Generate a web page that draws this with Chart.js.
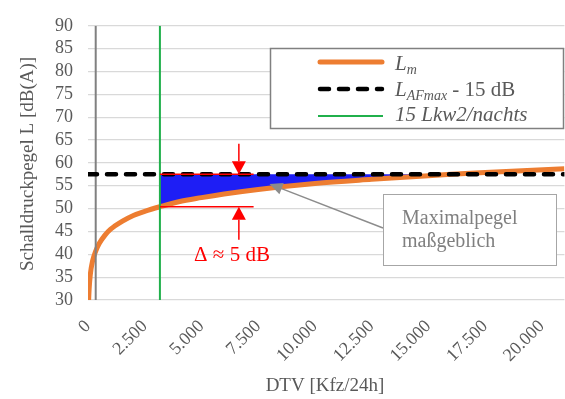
<!DOCTYPE html>
<html>
<head>
<meta charset="utf-8">
<script src="https://cdn.jsdelivr.net/npm/chart.js@4.4.0/dist/chart.umd.min.js"></script>
<style>
  html, body { margin: 0; padding: 0; background: #fff; }
</style>
</head>
<body>
<canvas id="chart" width="565" height="399"></canvas>
<script>
// values
const dtv = [28, 50, 100, 200, 340, 500, 750, 1000, 1500, 2000, 2500, 3170, 4000, 5000, 6000, 7500, 10000, 12500, 15000, 16000, 17500, 21000];
const lm  = [30.0, 32.4, 35.5, 38.5, 40.7, 42.4, 44.2, 45.5, 47.2, 48.5, 49.4, 50.4, 51.5, 52.4, 53.2, 54.2, 55.5, 56.4, 57.2, 57.5, 57.9, 58.7];
const lafmaxMinus15 = 57.5;     // L_AFmax - 15 dB
const lkwNight = 3170;          // 15 Lkw2/nachts
const greyMarker = 340;
const deltaLow = 50.4;          // Lm at the green line
const yTicks = [30, 35, 40, 45, 50, 55, 60, 65, 70, 75, 80, 85, 90];
const xTicks = [0, 2500, 5000, 7500, 10000, 12500, 15000, 17500, 20000];

const serif = '"Liberation Serif", "Times New Roman", serif';
const grey = '#595959';

const lmPoints = dtv.map((d, i) => ({ x: d, y: lm[i] }));
// blue area between Lm and the max level line, right of the green line
const fillPoints = lmPoints.filter(p => p.x >= lkwNight && p.y <= lafmaxMinus15);

function fmt(v) {
  return String(v).replace(/\B(?=(\d{3})+(?!\d))/g, '.');
}

function arrow(ctx, x, yFrom, yTo) {
  const dir = yTo > yFrom ? 1 : -1;
  const head = 13, half = 7;
  ctx.beginPath();
  ctx.moveTo(x, yFrom);
  ctx.lineTo(x, yTo - dir * head);
  ctx.stroke();
  ctx.beginPath();
  ctx.moveTo(x, yTo);
  ctx.lineTo(x - half, yTo - dir * head);
  ctx.lineTo(x + half, yTo - dir * head);
  ctx.closePath();
  ctx.fill();
}

const overlay = {
  id: 'overlay',
  afterDatasetsDraw(chart) {
    const { ctx, scales: { x, y } } = chart;
    const px = v => x.getPixelForValue(v);
    const py = v => y.getPixelForValue(v);
    ctx.save();

    // red delta marks
    ctx.strokeStyle = '#ff0000';
    ctx.fillStyle = '#ff0000';
    ctx.lineWidth = 1.5;
    ctx.beginPath();
    ctx.moveTo(px(lkwNight), py(lafmaxMinus15));
    ctx.lineTo(px(7300), py(lafmaxMinus15));
    ctx.moveTo(px(lkwNight), py(deltaLow));
    ctx.lineTo(px(7300), py(deltaLow));
    ctx.stroke();
    arrow(ctx, px(6650), py(64.2), py(lafmaxMinus15));
    arrow(ctx, px(6650), py(43.2), py(deltaLow));
    ctx.font = '21px ' + serif;
    ctx.textAlign = 'center';
    ctx.textBaseline = 'alphabetic';
    ctx.fillText('Δ ≈ 5 dB', 232, 261);

    // callout
    const tipX = px(8000), tipY = py(55.4);
    ctx.strokeStyle = '#8c8c8c';
    ctx.fillStyle = '#8c8c8c';
    ctx.lineWidth = 1.5;
    const bx = 383, by = 228;
    const ang = Math.atan2(tipY - by, tipX - bx);
    const hl = 13, hw = 6;
    const baseX = tipX - Math.cos(ang) * hl, baseY = tipY - Math.sin(ang) * hl;
    ctx.beginPath();
    ctx.moveTo(bx, by);
    ctx.lineTo(baseX, baseY);
    ctx.stroke();
    ctx.beginPath();
    ctx.moveTo(tipX, tipY);
    ctx.lineTo(baseX + Math.sin(ang) * hw, baseY - Math.cos(ang) * hw);
    ctx.lineTo(baseX - Math.sin(ang) * hw, baseY + Math.cos(ang) * hw);
    ctx.closePath();
    ctx.fill();
    ctx.fillStyle = '#fff';
    ctx.fillRect(383, 194, 173, 71);
    ctx.strokeStyle = '#a6a6a6';
    ctx.lineWidth = 1;
    ctx.strokeRect(383.5, 194.5, 173, 71);
    ctx.fillStyle = '#7f7f7f';
    ctx.font = '20px ' + serif;
    ctx.textAlign = 'left';
    ctx.fillText('Maximalpegel', 402, 224);
    ctx.fillText('maßgeblich', 402, 247);

    // legend
    ctx.fillStyle = '#fff';
    ctx.fillRect(270, 48, 294, 81);
    ctx.strokeStyle = '#808080';
    ctx.lineWidth = 1.5;
    ctx.strokeRect(270.5, 48.5, 293, 80);
    ctx.lineCap = 'round';
    ctx.strokeStyle = '#ed7d31';
    ctx.lineWidth = 5;
    ctx.beginPath(); ctx.moveTo(320, 62); ctx.lineTo(382, 62); ctx.stroke();
    ctx.strokeStyle = '#000';
    ctx.lineWidth = 4.5;
    ctx.setLineDash([9, 10]);
    ctx.beginPath(); ctx.moveTo(320, 89); ctx.lineTo(382, 89); ctx.stroke();
    ctx.setLineDash([]);
    ctx.lineCap = 'butt';
    ctx.strokeStyle = '#20b04b';
    ctx.lineWidth = 2;
    ctx.beginPath(); ctx.moveTo(318, 116); ctx.lineTo(383, 116); ctx.stroke();

    ctx.fillStyle = grey;
    ctx.font = 'italic 21px ' + serif;
    ctx.fillText('L', 395, 70);
    let w = ctx.measureText('L').width;
    ctx.font = 'italic 14px ' + serif;
    ctx.fillText('m', 395 + w, 74);

    ctx.font = 'italic 21px ' + serif;
    ctx.fillText('L', 395, 96);
    w = ctx.measureText('L').width;
    ctx.font = 'italic 14px ' + serif;
    ctx.fillText('AFmax', 395 + w, 100);
    w += ctx.measureText('AFmax').width;
    ctx.font = '21px ' + serif;
    ctx.fillText(' - 15 dB', 395 + w, 96);

    ctx.font = 'italic 21px ' + serif;
    ctx.fillText('15 Lkw2/nachts', 395, 121);

    // axis titles
    ctx.fillStyle = grey;
    ctx.font = '19px ' + serif;
    ctx.textAlign = 'center';
    ctx.textBaseline = 'middle';
    ctx.fillText('DTV [Kfz/24h]', 325, 386);
    ctx.save();
    ctx.translate(28, 164);
    ctx.rotate(-Math.PI / 2);
    ctx.fillText('Schalldruckpegel L [dB(A)]', 0, 0);
    ctx.restore();

    ctx.restore();
  }
};

new Chart(document.getElementById('chart'), {
  type: 'line',
  data: {
    datasets: [
      {
        label: 'LAFmax - 15 dB',
        data: [{ x: 0, y: lafmaxMinus15 }, { x: 21000, y: lafmaxMinus15 }],
        borderColor: '#000',
        borderWidth: 4.5,
        borderDash: [9, 10],
        borderCapStyle: 'round',
        pointRadius: 0,
        order: 1
      },
      {
        label: '15 Lkw2/nachts',
        data: [{ x: lkwNight, y: 30 }, { x: lkwNight, y: 90 }],
        borderColor: '#20b04b',
        borderWidth: 2,
        pointRadius: 0,
        order: 2
      },
      {
        label: 'marker',
        data: [{ x: greyMarker, y: 30 }, { x: greyMarker, y: 90 }],
        borderColor: '#808080',
        borderWidth: 2,
        pointRadius: 0,
        order: 3
      },
      {
        label: 'Lm',
        data: lmPoints,
        borderColor: '#ed7d31',
        borderWidth: 5,
        cubicInterpolationMode: 'monotone',
        pointRadius: 0,
        order: 4
      },
      {
        label: 'fill',
        data: fillPoints,
        borderWidth: 0,
        backgroundColor: '#1e1ef5',
        fill: { value: lafmaxMinus15 },
        cubicInterpolationMode: 'monotone',
        pointRadius: 0,
        order: 5
      }
    ]
  },
  options: {
    responsive: false,
    animation: false,
    layout: { padding: { top: 14, right: 0, left: 0, bottom: 0 } },
    plugins: {
      legend: { display: false },
      tooltip: { enabled: false },
      title: { display: false }
    },
    scales: {
      x: {
        type: 'linear',
        min: 0,
        max: 21000,
        afterBuildTicks: s => { s.ticks = xTicks.map(v => ({ value: v })); },
        afterFit: s => { s.height = 99; },
        grid: { display: false },
        border: { display: false },
        ticks: {
          autoSkip: false,
          minRotation: 45,
          maxRotation: 45,
          padding: 8,
          color: grey,
          font: { family: serif, size: 18 },
          callback: v => fmt(v)
        }
      },
      y: {
        min: 30,
        max: 90,
        afterBuildTicks: s => { s.ticks = yTicks.map(v => ({ value: v })); },
        afterFit: s => { s.width = 88; },
        grid: { color: '#d9d9d9', lineWidth: 1.3, drawTicks: false },
        border: { display: false },
        ticks: {
          autoSkip: false,
          padding: 15,
          color: grey,
          font: { family: serif, size: 18 }
        }
      }
    }
  },
  plugins: [overlay]
});
</script>
</body>
</html>
